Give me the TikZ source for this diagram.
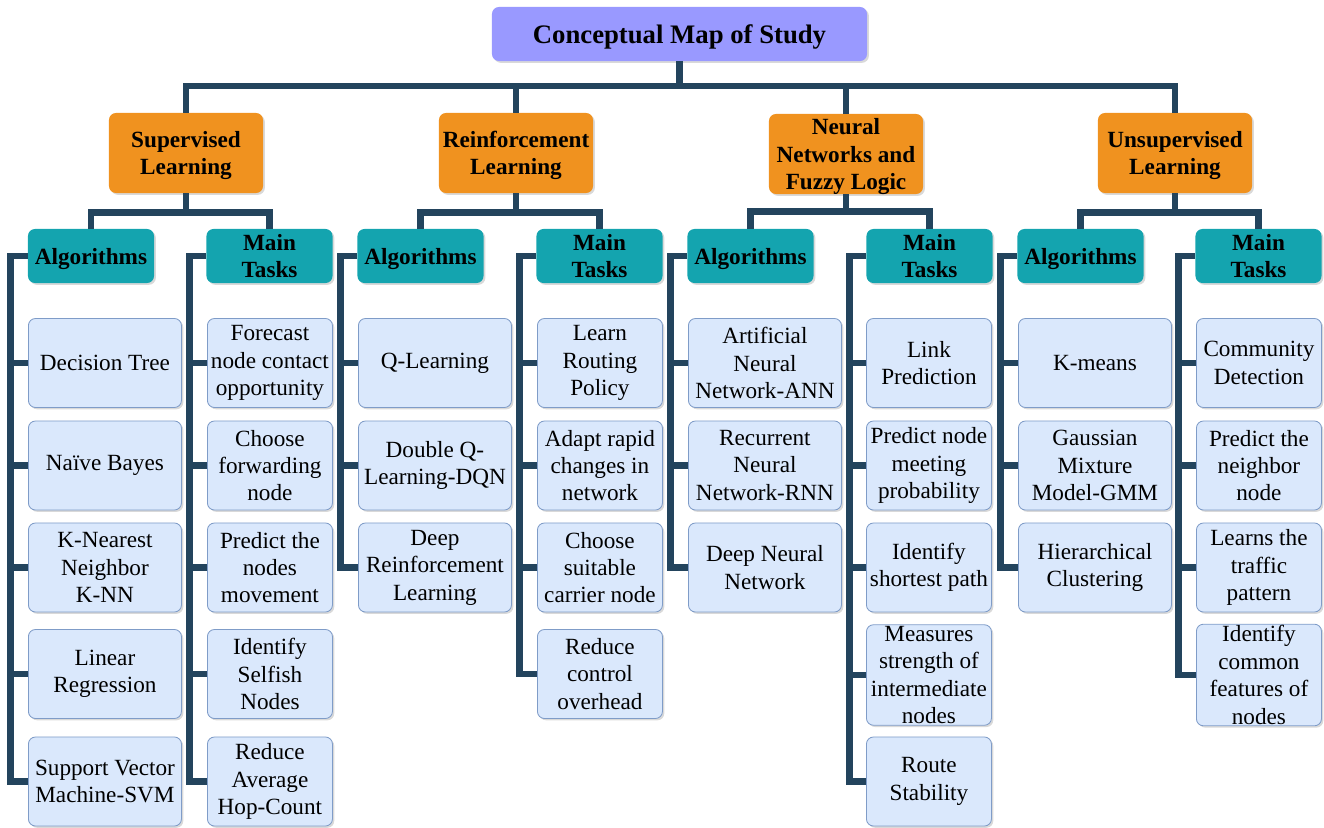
\documentclass[tikz,border=0pt]{standalone}
\usepackage{fontspec}
\setmainfont{Liberation Serif}
\usetikzlibrary{positioning,shadows}
\definecolor{headfill}{HTML}{9999FF}
\definecolor{areafill}{HTML}{F0921F}
\definecolor{groupfill}{HTML}{14A4AF}
\definecolor{leaffill}{HTML}{DAE8FC}
\definecolor{leafedge}{HTML}{7F9CC8}
\definecolor{linkcol}{HTML}{23445D}

\begin{document}
\begin{tikzpicture}[
  x=0.025cm, y=-0.025cm,
  box/.style={rounded corners=5pt,align=center,inner sep=1pt,
    drop shadow={opacity=0.3,shadow xshift=1.3pt,shadow yshift=-1.3pt}},
  headbox/.style={box,fill=headfill,minimum width=9.375cm,minimum height=1.35cm,
    text depth=0pt,font=\bfseries\fontsize{19}{23}\selectfont},
  areabox/.style={box,fill=areafill,minimum width=3.85cm,minimum height=2cm,
    text depth=0pt,font=\bfseries\fontsize{16.5}{19.5}\selectfont},
  groupbox/.style={box,fill=groupfill,minimum width=3.15cm,minimum height=1.35cm,
    text depth=0pt,font=\bfseries\fontsize{16.5}{19.5}\selectfont},
  algbox/.style={box,fill=leaffill,draw=leafedge,line width=0.6pt,anchor=west,
    minimum width=3.825cm,minimum height=2.225cm,font=\fontsize{16.5}{19.5}\selectfont},
  taskbox/.style={algbox,minimum width=3.125cm},
  link/.style={draw=linkcol,line width=0.165cm}
]
  \useasboundingbox (0,0) rectangle (1324,828);
  \coordinate (bus) at (0,86);

  % top levels
  \node[headbox] (map) at (679.5,34) {Conceptual Map of Study};
  \node[areabox] (sup) at (186,153) {Supervised\\Learning};
  \node[areabox] (rl) at (516,153) {Reinforcement\\Learning};
  \node[areabox] (nn) at (846,154) {Neural\\Networks and\\Fuzzy Logic};
  \node[areabox] (uns) at (1175,153) {Unsupervised\\Learning};

  \node[groupbox] (supAlg) at (91,256) {Algorithms};
  \node[groupbox] (supTask) at (269.5,256) {Main\\Tasks};
  \node[groupbox] (rlAlg) at (420.5,256) {Algorithms};
  \node[groupbox] (rlTask) at (599.5,256) {Main\\Tasks};
  \node[groupbox] (nnAlg) at (750.5,256) {Algorithms};
  \node[groupbox] (nnTask) at (929.5,256) {Main\\Tasks};
  \node[groupbox] (unsAlg) at (1080.5,256) {Algorithms};
  \node[groupbox] (unsTask) at (1258.5,256) {Main\\Tasks};

  % supervised learning
  \node[algbox] (dt) at (28,363) {Decision Tree};
  \node[algbox] (nb) at (28,465.5) {Naïve Bayes};
  \node[algbox] (knn) at (28,567.5) {K-Nearest\\Neighbor\\K-NN};
  \node[algbox] (linreg) at (28,674) {Linear\\Regression};
  \node[algbox] (svm) at (28,781.5) {Support Vector\\Machine-SVM};
  \node[taskbox] (forecast) at (207,363) {Forecast\\node contact\\opportunity};
  \node[taskbox] (chooseFwd) at (207,465.5) {Choose\\forwarding\\node};
  \node[taskbox] (predMove) at (207,567.5) {Predict the\\nodes\\movement};
  \node[taskbox] (selfish) at (207,674) {Identify\\Selfish\\Nodes};
  \node[taskbox] (hopCount) at (207,781.5) {Reduce\\Average\\Hop-Count};

  % reinforcement learning
  \node[algbox] (ql) at (358,363) {Q-Learning};
  \node[algbox] (dqn) at (358,465.5) {Double Q-\\Learning-DQN};
  \node[algbox] (drl) at (358,567.5) {Deep\\Reinforcement\\Learning};
  \node[taskbox] (policy) at (537,363) {Learn\\Routing\\Policy};
  \node[taskbox] (adapt) at (537,465.5) {Adapt rapid\\changes in\\network};
  \node[taskbox] (carrier) at (537,567.5) {Choose\\suitable\\carrier node};
  \node[taskbox] (overhead) at (537,674) {Reduce\\control\\overhead};

  % neural networks and fuzzy logic
  \node[algbox] (ann) at (688,363) {Artificial\\Neural\\Network-ANN};
  \node[algbox] (rnn) at (688,465.5) {Recurrent\\Neural\\Network-RNN};
  \node[algbox] (dnn) at (688,567.5) {Deep Neural\\Network};
  \node[taskbox] (linkPred) at (866,363) {Link\\Prediction};
  \node[taskbox] (meeting) at (866,465.5) {Predict node\\meeting\\probability};
  \node[taskbox] (shortest) at (866,567.5) {Identify\\shortest path};
  \node[taskbox] (strength) at (866,675) {Measures\\strength of\\intermediate\\nodes};
  \node[taskbox] (stability) at (866,781.5) {Route\\Stability};

  % unsupervised learning
  \node[algbox] (kmeans) at (1018,363) {K-means};
  \node[algbox] (gmm) at (1018,465.5) {Gaussian\\Mixture\\Model-GMM};
  \node[algbox] (hier) at (1018,567.5) {Hierarchical\\Clustering};
  \node[taskbox] (community) at (1196,363) {Community\\Detection};
  \node[taskbox] (neighbor) at (1196,465.5) {Predict the\\neighbor\\node};
  \node[taskbox] (traffic) at (1196,567.5) {Learns the\\traffic\\pattern};
  \node[taskbox] (features) at (1196,675) {Identify\\common\\features of\\nodes};

  % connectors
  \draw[link] (map.south) -- (map.south |- bus) -| (sup.north);
  \draw[link] (map.south) -- (map.south |- bus) -| (rl.north);
  \draw[link] (map.south) -- (map.south |- bus) -| (nn.north);
  \draw[link] (map.south) -- (map.south |- bus) -| (uns.north);

  \draw[link] (sup.south) -- ++(0,19) coordinate (s1) -| (supAlg.north);
  \draw[link] (s1) -| (supTask.north);
  \draw[link] (rl.south) -- ++(0,19) coordinate (s2) -| (rlAlg.north);
  \draw[link] (s2) -| (rlTask.north);
  \draw[link] (nn.south) -- ++(0,17) coordinate (s3) -| (nnAlg.north);
  \draw[link] (s3) -| (nnTask.north);
  \draw[link] (uns.south) -- ++(0,19) coordinate (s4) -| (unsAlg.north);
  \draw[link] (s4) -| (unsTask.north);

  \draw[link] (supAlg.west) -- ++(-17,0) coordinate (r1) |- (svm.west);
  \draw[link] (dt.west) -- (dt.west -| r1);
  \draw[link] (nb.west) -- (nb.west -| r1);
  \draw[link] (knn.west) -- (knn.west -| r1);
  \draw[link] (linreg.west) -- (linreg.west -| r1);
  \draw[link] (supTask.west) -- ++(-17,0) coordinate (r2) |- (hopCount.west);
  \draw[link] (forecast.west) -- (forecast.west -| r2);
  \draw[link] (chooseFwd.west) -- (chooseFwd.west -| r2);
  \draw[link] (predMove.west) -- (predMove.west -| r2);
  \draw[link] (selfish.west) -- (selfish.west -| r2);

  \draw[link] (rlAlg.west) -- ++(-17,0) coordinate (r3) |- (drl.west);
  \draw[link] (ql.west) -- (ql.west -| r3);
  \draw[link] (dqn.west) -- (dqn.west -| r3);
  \draw[link] (rlTask.west) -- ++(-17,0) coordinate (r4) |- (overhead.west);
  \draw[link] (policy.west) -- (policy.west -| r4);
  \draw[link] (adapt.west) -- (adapt.west -| r4);
  \draw[link] (carrier.west) -- (carrier.west -| r4);

  \draw[link] (nnAlg.west) -- ++(-17,0) coordinate (r5) |- (dnn.west);
  \draw[link] (ann.west) -- (ann.west -| r5);
  \draw[link] (rnn.west) -- (rnn.west -| r5);
  \draw[link] (nnTask.west) -- ++(-17,0) coordinate (r6) |- (stability.west);
  \draw[link] (linkPred.west) -- (linkPred.west -| r6);
  \draw[link] (meeting.west) -- (meeting.west -| r6);
  \draw[link] (shortest.west) -- (shortest.west -| r6);
  \draw[link] (strength.west) -- (strength.west -| r6);

  \draw[link] (unsAlg.west) -- ++(-17,0) coordinate (r7) |- (hier.west);
  \draw[link] (kmeans.west) -- (kmeans.west -| r7);
  \draw[link] (gmm.west) -- (gmm.west -| r7);
  \draw[link] (unsTask.west) -- ++(-17,0) coordinate (r8) |- (features.west);
  \draw[link] (community.west) -- (community.west -| r8);
  \draw[link] (neighbor.west) -- (neighbor.west -| r8);
  \draw[link] (traffic.west) -- (traffic.west -| r8);
\end{tikzpicture}
\end{document}
